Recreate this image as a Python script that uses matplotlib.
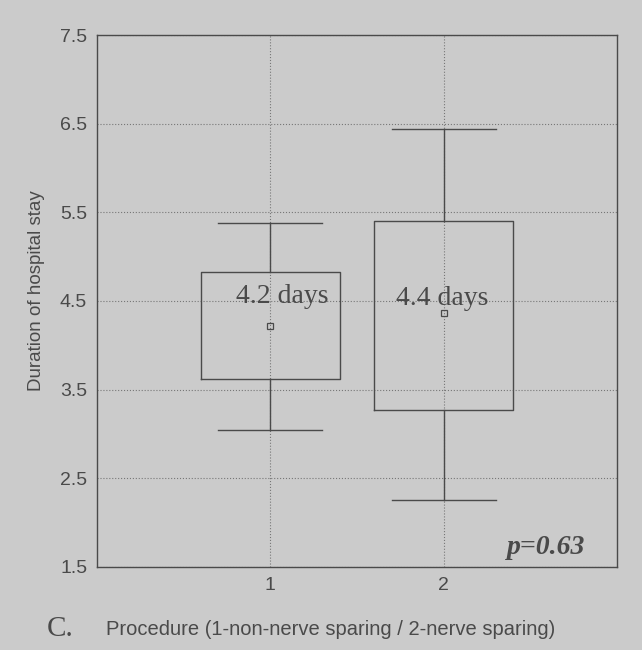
import numpy as np
import matplotlib.pyplot as plt

# data
procedures = [1, 2]
q1 = [3.62, 3.27]
q3 = [4.83, 5.40]
whisker_lo = [3.04, 2.25]
whisker_hi = [5.38, 6.44]
means = [4.22, 4.36]
mean_labels = ["4.2 days", "4.4 days"]
y_ticks = [1.5, 2.5, 3.5, 4.5, 5.5, 6.5, 7.5]
p_text = "p=0.63"

bg = "#cbcbcb"
ink = "#4a4a4a"

fig = plt.figure(figsize=(6.42, 6.5), dpi=100, facecolor=bg)
ax = fig.add_axes([0.151, 0.128, 0.810, 0.818], facecolor=bg)

stats = []
for i in range(len(procedures)):
    stats.append(dict(med=means[i], q1=q1[i], q3=q3[i], whislo=whisker_lo[i],
                      whishi=whisker_hi[i], mean=means[i], fliers=[]))

ax.bxp(stats, positions=procedures, widths=0.8, showmeans=True, showfliers=False,
       boxprops=dict(color=ink, linewidth=1.0),
       whiskerprops=dict(color=ink, linewidth=1.0),
       capprops=dict(color=ink, linewidth=1.0),
       capwidths=0.6,
       medianprops=dict(linewidth=0),
       meanprops=dict(marker="s", markersize=4, markerfacecolor="none",
                      markeredgecolor=ink, markeredgewidth=0.9))

# label offsets inside the boxes, as in the original
label_dx = [0.07, -0.01]
label_y = [4.55, 4.53]
for x, dx, ly, lab in zip(procedures, label_dx, label_y, mean_labels):
    ax.text(x + dx, ly, lab, ha="center", va="center", fontsize=20,
            family="Liberation Serif", color=ink)

ax.text(2.82, 1.72, p_text, ha="right", va="center", fontsize=20,
        family="Liberation Serif", style="italic", weight="bold", color=ink)

ax.set_xlim(0, 3)
ax.set_ylim(1.5, 7.5)
ax.set_xticks(procedures)
ax.set_yticks(y_ticks)
ax.set_xticklabels([str(p) for p in procedures])
ax.set_yticklabels([str(t) for t in y_ticks])
ax.tick_params(length=0, labelsize=14, labelcolor=ink, pad=7)
for lab in ax.get_xticklabels() + ax.get_yticklabels():
    lab.set_family("Liberation Sans")
ax.grid(True, linestyle=":", color="#777777", linewidth=0.8)
ax.set_axisbelow(True)
for s in ax.spines.values():
    s.set_color(ink)
    s.set_linewidth(1.0)

ax.set_ylabel("Duration of hospital stay", fontsize=13.5, family="Liberation Sans",
              color=ink)
ax.yaxis.set_label_coords(-0.10, 0.52)
ax.set_xlabel("Procedure (1-non-nerve sparing / 2-nerve sparing)", fontsize=14.5,
              family="Liberation Sans", color=ink)
ax.xaxis.set_label_coords(0.45, -0.10)
fig.text(0.073, 0.022, "C.", fontsize=21, family="Liberation Serif", color=ink)

fig.savefig("out.png", dpi=100, facecolor=bg)
